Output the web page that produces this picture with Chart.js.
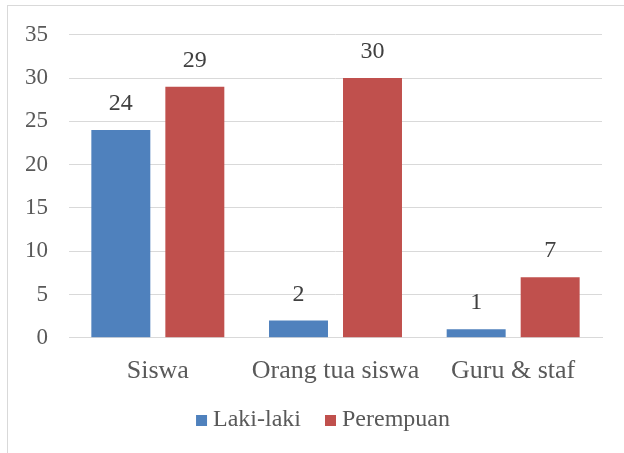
<!DOCTYPE html>
<html>
<head>
<meta charset="utf-8">
<script src="https://cdn.jsdelivr.net/npm/chart.js@4"></script>
<style>
  html, body { margin: 0; padding: 0; background: #fff; }
  #wrap { position: relative; width: 624px; height: 453px; overflow: hidden; }
  #frame { position: absolute; left: 7px; top: 5px; width: 700px; height: 600px; border: 1px solid #d9d9d9; box-sizing: border-box; }
  canvas { position: absolute; left: 0; top: 0; }
</style>
</head>
<body>
<div id="wrap">
  <div id="frame"></div>
  <canvas id="chart" width="624" height="453"></canvas>
</div>
<script>
const categories = ['Siswa', 'Orang tua siswa', 'Guru & staf'];
const lakiLaki = [24, 2, 1];
const perempuan = [29, 30, 7];
const yTicks = [0, 5, 10, 15, 20, 25, 30, 35];

const font = 'Liberation Serif';

// draws the value above each bar
const barLabels = {
  id: 'barLabels',
  afterDatasetsDraw(chart) {
    const ctx = chart.ctx;
    ctx.save();
    ctx.font = '24px "' + font + '"';
    ctx.fillStyle = '#404040';
    ctx.textAlign = 'center';
    ctx.textBaseline = 'middle';
    chart.data.datasets.forEach((ds, i) => {
      chart.getDatasetMeta(i).data.forEach((bar, j) => {
        ctx.fillText(ds.data[j], bar.x, bar.y - 26);
      });
    });
    ctx.restore();
  }
};

// legend with tighter box/text spacing than the built-in one
const tightLegend = {
  id: 'tightLegend',
  afterDraw(chart) {
    const ctx = chart.ctx;
    const box = 11, gap = 6, itemGap = 24, y = 420;
    ctx.save();
    ctx.font = '24px "' + font + '"';
    ctx.textBaseline = 'middle';
    const items = chart.data.datasets.map(ds => ({ text: ds.label, color: ds.backgroundColor, w: ctx.measureText(ds.label).width }));
    let total = items.reduce((s, it) => s + box + gap + it.w, 0) + itemGap * (items.length - 1);
    let x = chart.width / 2 + 11 - total / 2;
    items.forEach(it => {
      ctx.fillStyle = it.color;
      ctx.fillRect(x, y - 5, box, box);
      x += box + gap;
      ctx.fillStyle = '#595959';
      ctx.fillText(it.text, x, y);
      x += it.w + itemGap;
    });
    ctx.restore();
  }
};

const ctx = document.getElementById('chart').getContext('2d');
new Chart(ctx, {
  type: 'bar',
  data: {
    labels: categories,
    datasets: [
      { label: 'Laki-laki', data: lakiLaki, backgroundColor: '#4f81bd' },
      { label: 'Perempuan', data: perempuan, backgroundColor: '#c0504d' }
    ]
  },
  options: {
    responsive: false,
    animation: false,
    events: [],
    layout: { padding: { left: 0, right: 22, top: 31, bottom: 56 } },
    datasets: { bar: { categoryPercentage: 0.833, barPercentage: 0.797 } },
    scales: {
      x: {
        grid: { display: false },
        border: { color: '#d9d9d9', width: 1 },
        ticks: { color: '#595959', font: { family: font, size: 26 }, padding: 10 }
      },
      y: {
        min: 0,
        max: 35,
        afterBuildTicks: scale => { scale.ticks = yTicks.map(v => ({ value: v })); },
        afterFit: scale => { scale.width = 69; },
        grid: { color: '#d9d9d9', drawTicks: false },
        border: { display: false },
        ticks: { color: '#595959', font: { family: font, size: 23 }, padding: 21 }
      }
    },
    plugins: {
      legend: { display: false },
      tooltip: { enabled: false }
    }
  },
  plugins: [barLabels, tightLegend]
});
</script>
</body>
</html>
